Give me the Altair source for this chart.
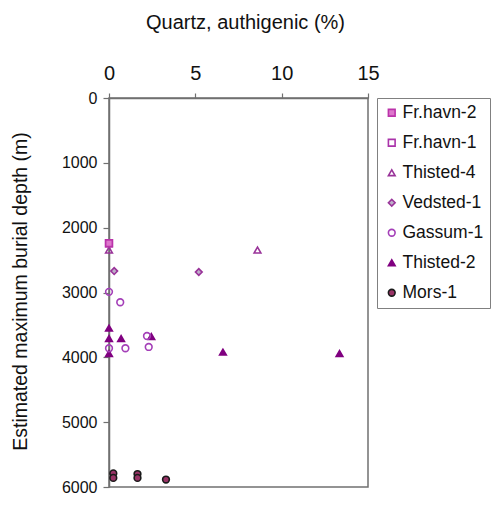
import altair as alt
import pandas as pd

series_order = ["Fr.havn-2", "Fr.havn-1", "Thisted-4", "Vedsted-1", "Gassum-1", "Thisted-2", "Mors-1"]

frhavn2_x = [0.0]
frhavn2_y = [2240]
frhavn1_x = [0.0]
frhavn1_y = [2240]
thisted4_x = [0.0, 8.6]
thisted4_y = [2345, 2345]
vedsted1_x = [0.3, 5.2]
vedsted1_y = [2670, 2685]
gassum1_x = [0.0, 0.65, 0.0, 0.95, 2.3, 2.2]
gassum1_y = [2990, 3150, 3860, 3860, 3840, 3670]
thisted2_x = [0.0, 0.0, 0.7, 2.45, 0.0, 6.6, 13.35]
thisted2_y = [3550, 3710, 3710, 3680, 3940, 3920, 3940]
mors1_x = [0.25, 0.25, 1.65, 1.65, 3.3]
mors1_y = [5790, 5860, 5800, 5860, 5885]

x_ticks = [0, 5, 10, 15]
y_ticks = [0, 1000, 2000, 3000, 4000, 5000, 6000]

groups = [
    ("Mors-1", mors1_x, mors1_y),
    ("Thisted-2", thisted2_x, thisted2_y),
    ("Gassum-1", gassum1_x, gassum1_y),
    ("Vedsted-1", vedsted1_x, vedsted1_y),
    ("Thisted-4", thisted4_x, thisted4_y),
    ("Fr.havn-1", frhavn1_x, frhavn1_y),
    ("Fr.havn-2", frhavn2_x, frhavn2_y),
]
rows = []
order = 0
for name, xs, ys in groups:
    for xv, yv in zip(xs, ys):
        rows.append({"well": name, "quartz": xv, "depth": yv, "ord": order})
        order += 1
df = pd.DataFrame(rows)

shapes = ["square", "square", "triangle-up", "diamond", "circle", "triangle-up", "circle"]
fills = ["#dd77cc", "transparent", "transparent", "#bdb0c8", "transparent", "#800080", "#993366"]
strokes = ["#bb33aa", "#aa33aa", "#993399", "#993399", "#a43fb8", "#800080", "#1a1a1a"]
sizes = [45, 45, 55, 50, 45, 65, 110]

FONT = "Liberation Sans"

chart = alt.Chart(df).mark_point(filled=True, opacity=1, strokeWidth=1.6).encode(
    x=alt.X("quartz:Q",
            scale=alt.Scale(domain=[0, 15], nice=False, zero=False),
            axis=alt.Axis(orient="top", values=x_ticks, title="Quartz, authigenic (%)",
                          labelFontSize=20, titleFontSize=20, tickSize=5, labelPadding=10,
                          labelFlush=False,
                          titleX=136, titleY=-76, titleBaseline="middle", titleFontWeight="normal")),
    y=alt.Y("depth:Q",
            scale=alt.Scale(domain=[0, 6000], reverse=True, nice=False),
            axis=alt.Axis(values=y_ticks, format="d", title="Estimated maximum burial depth (m)",
                          labelFontSize=16, titleFontSize=19.5, tickSize=6, labelPadding=6,
                          labelFlush=False,
                          titleX=-89, titleY=193, titleBaseline="middle", titleFontWeight="normal")),
    shape=alt.Shape("well:N", scale=alt.Scale(domain=series_order, range=shapes),
                    legend=alt.Legend(title=None)),
    fill=alt.Fill("well:N", scale=alt.Scale(domain=series_order, range=fills),
                  legend=alt.Legend(title=None)),
    stroke=alt.Stroke("well:N", scale=alt.Scale(domain=series_order, range=strokes),
                      legend=alt.Legend(title=None)),
    size=alt.Size("well:N", scale=alt.Scale(domain=series_order, range=sizes),
                  legend=alt.Legend(title=None)),
    order=alt.Order("ord:Q"),
).properties(
    width=259, height=389,
    autosize="none",
    padding={"left": 101, "top": 90, "right": 128, "bottom": 19},
    background="white",
).configure_axis(
    grid=False,
    domainColor="#707070", domainWidth=1.5,
    tickColor="#707070", tickWidth=1.2,
    labelColor="#111111", titleColor="#111111",
    labelFont=FONT, titleFont=FONT,
).configure_view(
    stroke="#707070", strokeWidth=1.5,
).configure_legend(
    orient="none", legendX=268, legendY=0,
    strokeColor="#808080", padding=6, rowPadding=11,
    labelFont=FONT, labelFontSize=17.5, labelColor="#111111",
    symbolOffset=0, labelOffset=2, symbolStrokeWidth=1.6,
    fillColor="white",
)

chart.save("out.html", embed_options={"renderer": "svg", "actions": False})
